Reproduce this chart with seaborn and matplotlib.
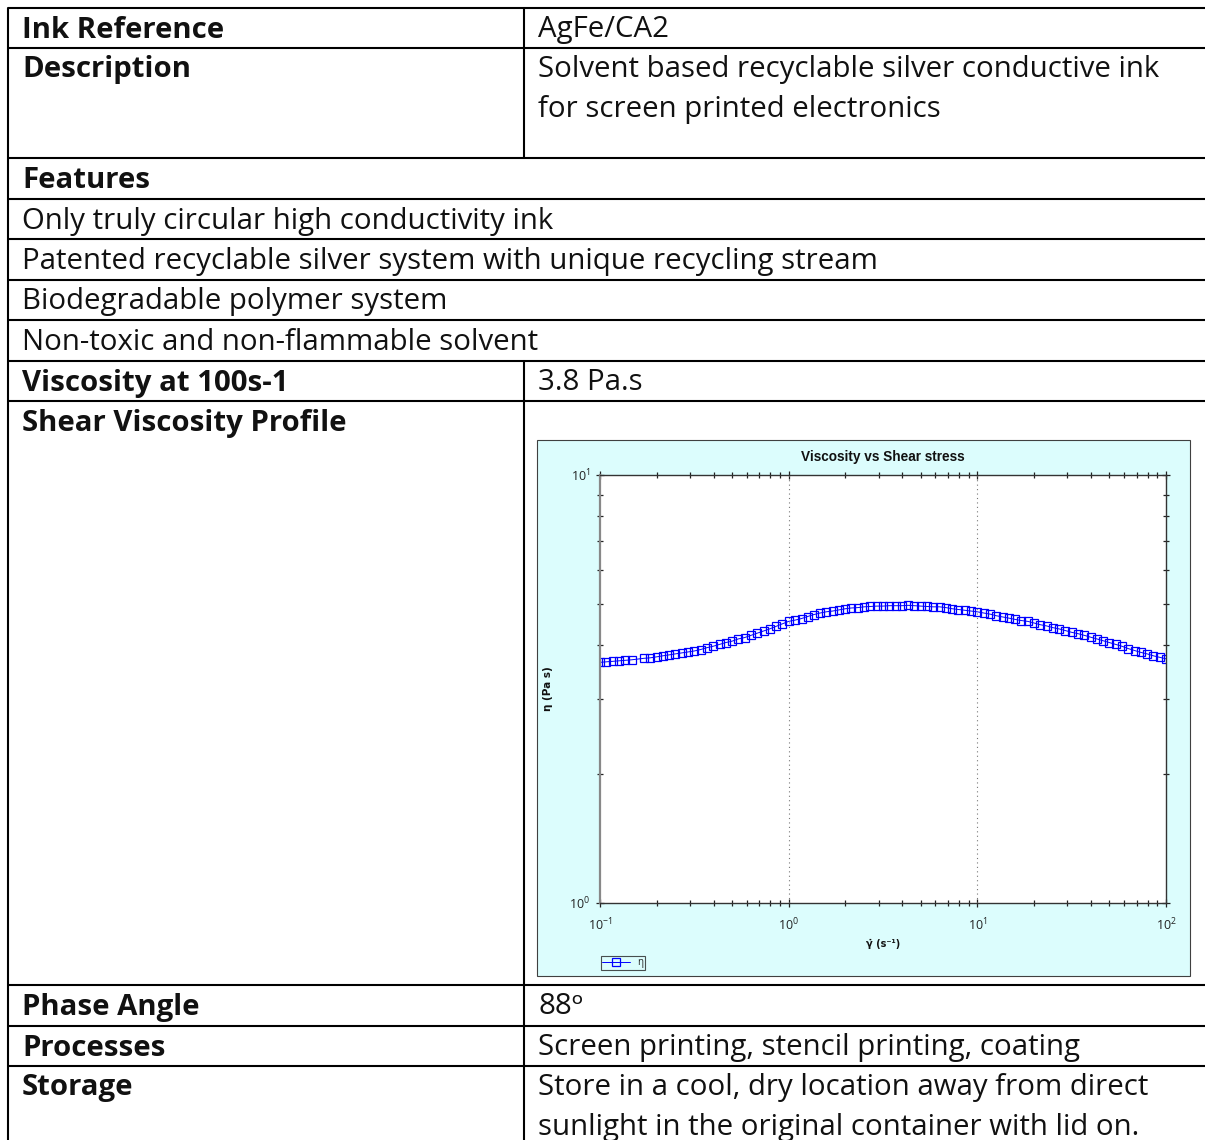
import matplotlib
matplotlib.use('Agg')
import matplotlib.pyplot as plt
from matplotlib.patches import Rectangle
from matplotlib.ticker import LogLocator, NullFormatter
import seaborn as sns

sns.set_style('white')
plt.rcParams['font.family'] = ['Open Sans', 'DejaVu Sans']
plt.rcParams['mathtext.fontset'] = 'custom'
plt.rcParams['mathtext.rm'] = 'Liberation Sans'
plt.rcParams['mathtext.it'] = 'Liberation Sans:italic'
plt.rcParams['mathtext.bf'] = 'Liberation Sans:bold'

# shear rate (1/s) and viscosity (Pa s)
shear_rate = [0.100, 0.108, 0.117, 0.126, 0.136, 0.147, 0.171, 0.185, 0.200, 0.215,
              0.233, 0.251, 0.271, 0.293, 0.316, 0.341, 0.369, 0.398, 0.430, 0.464,
              0.501, 0.541, 0.584, 0.631, 0.681, 0.736, 0.794, 0.858, 0.926, 1.00,
              1.08, 1.17, 1.26, 1.36, 1.47, 1.58, 1.71, 1.85, 2.00, 2.15,
              2.33, 2.51, 2.71, 2.93, 3.16, 3.41, 3.69, 3.98, 4.30, 4.64,
              5.01, 5.41, 5.84, 6.31, 6.81, 7.36, 7.94, 8.58, 9.26, 10.0,
              10.8, 11.7, 12.6, 13.6, 14.7, 15.8, 17.1, 18.5, 20.0, 21.5,
              23.3, 25.1, 27.1, 29.3, 31.6, 34.1, 36.9, 39.8, 43.0, 46.4,
              50.1, 54.1, 58.4, 63.1, 68.1, 73.6, 79.4, 85.8, 92.6, 100.0]
viscosity = [3.65, 3.66, 3.67, 3.68, 3.69, 3.70, 3.73, 3.74, 3.76, 3.78,
             3.80, 3.82, 3.84, 3.86, 3.88, 3.91, 3.95, 3.98, 4.02, 4.06,
             4.09, 4.14, 4.17, 4.22, 4.27, 4.32, 4.37, 4.43, 4.49, 4.55,
             4.58, 4.62, 4.67, 4.72, 4.76, 4.79, 4.81, 4.84, 4.87, 4.89,
             4.90, 4.92, 4.93, 4.94, 4.94, 4.95, 4.95, 4.95, 4.96, 4.95,
             4.94, 4.93, 4.92, 4.92, 4.90, 4.87, 4.85, 4.83, 4.81, 4.79,
             4.76, 4.73, 4.69, 4.66, 4.63, 4.60, 4.57, 4.55, 4.51, 4.47,
             4.44, 4.40, 4.37, 4.33, 4.29, 4.26, 4.22, 4.18, 4.14, 4.10,
             4.06, 4.02, 3.98, 3.93, 3.89, 3.85, 3.82, 3.78, 3.75, 3.72]

# table rows: label, value lines, row top
row_lines = [8, 48, 158, 199, 239, 280, 320, 361, 401, 985, 1026, 1066]
two_col_rows = [
    ('Ink Reference', ['AgFe/CA2'], 8),
    ('Description', ['Solvent based recyclable silver conductive ink',
                     'for screen printed electronics'], 48),
    ('Viscosity at 100s-1', ['3.8 Pa.s'], 361),
    ('Shear Viscosity Profile', [], 401),
    ('Phase Angle', ['88ᵒ'], 985),
    ('Processes', ['Screen printing, stencil printing, coating'], 1026),
    ('Storage', ['Store in a cool, dry location away from direct',
                 'sunlight in the original container with lid on.'], 1066),
]
feature_header = 'Features'
features = ['Only truly circular high conductivity ink',
            'Patented recyclable silver system with unique recycling stream',
            'Biodegradable polymer system',
            'Non-toxic and non-flammable solvent']

W, H = 1205, 1140
fig = plt.figure(figsize=(W / 100, H / 100), dpi=100)
base = fig.add_axes([0, 0, 1, 1])
base.set_xlim(0, W)
base.set_ylim(H, 0)
base.axis('off')

# table grid
for y in row_lines:
    base.plot([8, W], [y, y], color='black', lw=1.5, solid_capstyle='butt')
base.plot([8, 8], [8, H], color='black', lw=1.5)
base.plot([524, 524], [8, 158], color='black', lw=1.5)
base.plot([524, 524], [361, H], color='black', lw=1.5)

fs = 21.2
off = 29.5
line_gap = 39
tc = '#111111'
for label, vals, top in two_col_rows:
    base.text(22, top + off, label, fontsize=fs, fontweight='bold',
              va='baseline', color=tc)
    for i, v in enumerate(vals):
        base.text(538, top + off + i * line_gap, v, fontsize=fs,
                  va='baseline', color=tc)
base.text(22, 158 + off, feature_header, fontsize=fs, fontweight='bold',
          va='baseline', color=tc)
for i, f in enumerate(features):
    base.text(22, row_lines[3 + i] + off, f, fontsize=fs, va='baseline', color=tc)

# chart panel
base.add_patch(Rectangle((537, 440), 653, 536, facecolor='#dcfdfd',
                         edgecolor='#404040', lw=0.8))

ax = fig.add_axes([600 / W, (H - 903) / H, 566 / W, 428 / H])
ax.set_facecolor('white')
sns.lineplot(x=shear_rate, y=viscosity, ax=ax, color='#0000ff', lw=0.7,
             marker='s', markersize=5.2, markerfacecolor='none',
             markeredgecolor='#0000ff', markeredgewidth=0.9, label='η')
ax.set_xscale('log')
ax.set_yscale('log')
ax.set_xlim(0.1, 100)
ax.set_ylim(1, 10)
ax.yaxis.set_major_locator(LogLocator(base=10, numticks=5))
ax.yaxis.set_minor_locator(LogLocator(base=10, subs=range(2, 10), numticks=10))
ax.yaxis.set_minor_formatter(NullFormatter())
ax.xaxis.set_minor_formatter(NullFormatter())
ax.tick_params(which='both', direction='inout', top=True, right=True,
               left=True, bottom=True, labelsize=9, colors='#222222', pad=4)
ax.tick_params(which='major', length=6, width=0.9)
ax.tick_params(which='minor', length=5, width=0.9)
ax.tick_params(axis='x', pad=7)
for s in ['top', 'right', 'bottom']:
    ax.spines[s].set_color('#333333')
    ax.spines[s].set_linewidth(1.0)
ax.spines['left'].set_color('#888888')
ax.spines['left'].set_linewidth(1.6)
for xv in [1, 10]:
    ax.axvline(xv, color='#777777', lw=0.8, ls=(0, (1, 3)))
ax.grid(False)

ax.set_title('Viscosity vs Shear stress', fontsize=9.8, fontweight='bold',
             family=['Liberation Sans', 'DejaVu Sans'], pad=10, color='#111111')
ax.set_xlabel('γ̇ (s⁻¹)', fontsize=7, fontweight='bold',
              family=['DejaVu Sans'], color='#111111')
ax.set_ylabel('η (Pa s)', fontsize=7.5, fontweight='bold',
              family=['DejaVu Sans'], color='#111111')
ax.xaxis.set_label_coords(0.50, -0.085)
ax.yaxis.set_label_coords(-0.083, 0.5)

leg = ax.legend(loc='upper left', bbox_to_anchor=(601 / W, (H - 956) / H),
                bbox_transform=fig.transFigure, fontsize=7, frameon=True,
                fancybox=False, handlelength=2.8, borderpad=0.15,
                handletextpad=0.8, borderaxespad=0)
leg.get_frame().set_edgecolor('#222222')
leg.get_frame().set_linewidth(0.8)
leg.get_frame().set_facecolor('#dcfdfd')

fig.savefig('out.png', dpi=100)
